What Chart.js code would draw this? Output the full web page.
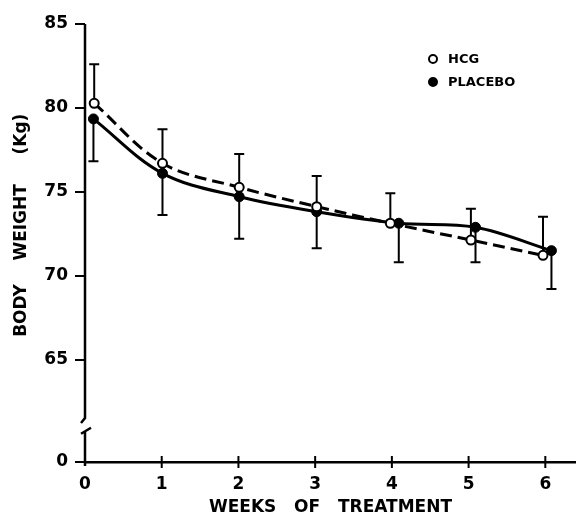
<!DOCTYPE html>
<html><head><meta charset="utf-8">
<script src="https://cdn.jsdelivr.net/npm/chart.js@4/dist/chart.umd.min.js"></script>
<style>html,body{margin:0;padding:0;background:#fff}</style>
</head><body>
<canvas id="c" width="576" height="519"></canvas>
<script>
// ---- data ----
const weeksHCG      = [0.12, 1.01, 2.01, 3.02, 3.98, 5.03, 5.97];
const hcgWeight     = [80.28, 76.71, 75.28, 74.13, 73.14, 72.14, 71.23];
const hcgUpper      = [82.6, 78.73, 77.26, 75.95, 74.92, 74.0, 73.53];
const weeksPlacebo  = [0.11, 1.01, 2.01, 3.02, 4.09, 5.09, 6.08];
const placeboWeight = [79.35, 76.11, 74.72, 73.83, 73.14, 72.9, 71.51];
const placeboLower  = [76.83, 73.63, 72.22, 71.65, 70.82, 70.82, 69.23];
const xTickValues   = [0, 1, 2, 3, 4, 5, 6];
const yTickValues   = [65, 70, 75, 80, 85];
const yZeroValue    = 58.93;   // where the "0" sits below the axis break
const seriesNames   = ['HCG', 'PLACEBO'];
const xTitle = 'WEEKS   OF   TREATMENT';
const yTitle = '      BODY    WEIGHT     (Kg)';

const FONT = "'DejaVu Sans', sans-serif";

const pts = (xs, ys) => xs.map((x, i) => ({x: x, y: ys[i]}));

const errorBars = {
  id: 'errorBars',
  beforeDatasetsDraw(chart) {
    const ctx = chart.ctx, ys = chart.scales.y;
    const ends = [hcgUpper, placeboLower];
    ctx.save();
    ctx.strokeStyle = '#000';
    ctx.lineWidth = 2;
    chart.data.datasets.forEach((ds, di) => {
      const meta = chart.getDatasetMeta(di);
      meta.data.forEach((el, i) => {
        const yEnd = ys.getPixelForValue(ends[di][i]);
        ctx.beginPath();
        ctx.moveTo(el.x, el.y);
        ctx.lineTo(el.x, yEnd);
        ctx.moveTo(el.x - 5, yEnd);
        ctx.lineTo(el.x + 5, yEnd);
        ctx.stroke();
      });
    });
    ctx.restore();
  }
};

const axisDeco = {
  id: 'axisDeco',
  beforeDatasetsDraw(chart) {
    const ctx = chart.ctx, xs = chart.scales.x, ys = chart.scales.y;
    const ax = chart.chartArea.left, bottom = chart.chartArea.bottom, top = chart.chartArea.top;
    ctx.save();
    ctx.strokeStyle = '#000';
    ctx.lineWidth = 2.5;
    ctx.lineCap = 'butt';
    const breakTop = ys.getPixelForValue(61.55);
    const breakBot = ys.getPixelForValue(60.85);
    ctx.beginPath();
    ctx.moveTo(ax, top);
    ctx.lineTo(ax, breakTop);
    ctx.lineTo(ax - 4, breakTop + 5);
    ctx.stroke();
    ctx.beginPath();
    ctx.moveTo(ax - 4, breakBot + 4);
    ctx.lineTo(ax + 6, breakBot - 2);
    ctx.moveTo(ax, breakBot + 1);
    ctx.lineTo(ax, bottom + 4);
    ctx.stroke();
    ctx.lineWidth = 2;
    [yZeroValue].concat(yTickValues).forEach(v => {
      const py = ys.getPixelForValue(v);
      ctx.beginPath();
      ctx.moveTo(ax - 10, py);
      ctx.lineTo(ax, py);
      ctx.stroke();
    });
    xTickValues.forEach(v => {
      if (v === 0) return;
      const px = xs.getPixelForValue(v);
      ctx.beginPath();
      ctx.moveTo(px, bottom - 6);
      ctx.lineTo(px, bottom + 6);
      ctx.stroke();
    });
    ctx.restore();
  }
};

const legendDeco = {
  id: 'legendDeco',
  afterDraw(chart) {
    const ctx = chart.ctx;
    const lx = chart.chartArea.left + 348, ly = chart.chartArea.top + 35;
    ctx.save();
    ctx.font = "bold 13px " + FONT;
    ctx.textBaseline = 'middle';
    seriesNames.forEach((name, i) => {
      const y = ly + i * 23;
      ctx.beginPath();
      ctx.arc(lx, y, 4, 0, Math.PI * 2);
      ctx.lineWidth = 2;
      ctx.strokeStyle = '#000';
      ctx.fillStyle = i === 0 ? '#fff' : '#000';
      ctx.fill(); ctx.stroke();
      ctx.fillStyle = '#000';
      ctx.fillText(name, lx + 15, y + 1);
    });
    ctx.restore();
  }
};

new Chart(document.getElementById('c'), {
  type: 'line',
  data: {
    datasets: [
      {
        label: seriesNames[0],
        data: pts(weeksHCG, hcgWeight),
        borderColor: '#000',
        borderWidth: 3,
        borderDash: [12, 6],
        tension: 0.35,
        pointRadius: 4.5,
        pointBorderWidth: 2,
        pointBackgroundColor: '#fff',
        pointBorderColor: '#000',
        fill: false
      },
      {
        label: seriesNames[1],
        data: pts(weeksPlacebo, placeboWeight),
        borderColor: '#000',
        borderWidth: 3,
        tension: 0.35,
        pointRadius: 5,
        pointBorderWidth: 1,
        pointBackgroundColor: '#000',
        pointBorderColor: '#000',
        fill: false
      }
    ]
  },
  options: {
    responsive: false,
    animation: false,
    devicePixelRatio: 1,
    layout: { autoPadding: false, padding: { top: 24, right: 0, left: 0, bottom: 0 } },
    plugins: { legend: { display: false }, tooltip: { enabled: false } },
    scales: {
      x: {
        type: 'linear',
        min: 0,
        max: 6.4,
        afterBuildTicks: s => { s.ticks = xTickValues.map(v => ({value: v})); },
        afterFit: s => { s.height = 57; s.paddingLeft = 0; s.paddingRight = 0; },
        grid: { display: false, drawTicks: false },
        border: { display: true, color: '#000', width: 2.5 },
        ticks: { color: '#000', font: { family: FONT, size: 17, weight: 'bold' }, padding: 12, maxRotation: 0,
                 callback: v => String(v) },
        title: { display: true, text: xTitle, color: '#000',
                 font: { family: FONT, size: 17, weight: 'bold' }, padding: { top: 0, bottom: 1 } }
      },
      y: {
        type: 'linear',
        min: yZeroValue,
        max: 85,
        afterBuildTicks: s => { s.ticks = [yZeroValue].concat(yTickValues).map(v => ({value: v})); },
        afterFit: s => { s.width = 85; s.paddingTop = 0; s.paddingBottom = 0; },
        grid: { display: false, drawTicks: false },
        border: { display: false },
        ticks: { color: '#000', font: { family: FONT, size: 17, weight: 'bold' }, padding: 17,
                 callback: v => (v === yZeroValue ? '0' : String(v)) },
        title: { display: true, text: yTitle, color: '#000',
                 font: { family: FONT, size: 17, weight: 'bold' }, padding: { top: 11, bottom: 0 } }
      }
    }
  },
  plugins: [errorBars, axisDeco, legendDeco]
});
</script>
</body></html>
